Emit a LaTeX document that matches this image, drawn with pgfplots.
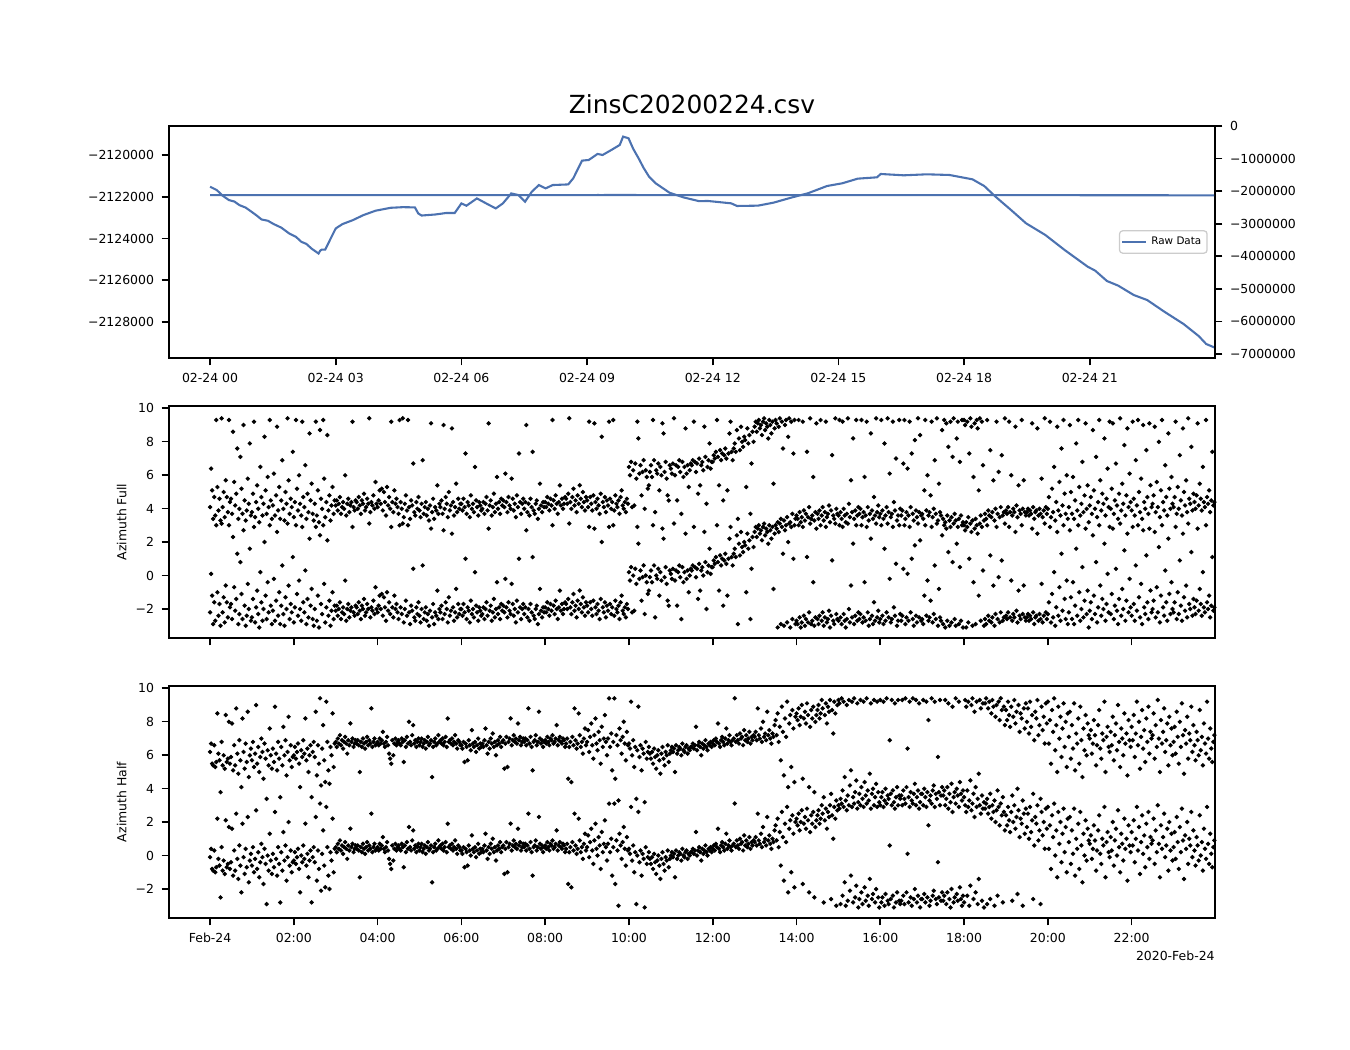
\documentclass[border=0pt]{standalone}
\usepackage{fontspec}
\setmainfont{DejaVu Sans}
\usepackage{pgfplots}
\usepackage{pgfplotstable}
\pgfplotsset{compat=1.18}
\definecolor{lineblue}{RGB}{76,114,176}

% raw data: h = hours since 02-24 00:00, dv = value + 2120000
\pgfplotstableread{
h dv
0.00 -1520
0.16 -1680
0.30 -1950
0.45 -2160
0.58 -2230
0.70 -2400
0.85 -2520
0.99 -2720
1.10 -2880
1.23 -3090
1.38 -3150
1.52 -3310
1.70 -3480
1.89 -3760
2.05 -3920
2.18 -4160
2.30 -4260
2.42 -4480
2.59 -4720
2.63 -4580
2.67 -4530
2.75 -4530
2.88 -4000
3.00 -3520
3.16 -3310
3.41 -3120
3.66 -2880
3.95 -2670
4.31 -2530
4.60 -2500
4.89 -2510
4.97 -2800
5.05 -2900
5.38 -2850
5.63 -2780
5.84 -2780
6.00 -2320
6.12 -2430
6.37 -2080
6.62 -2350
6.82 -2560
6.99 -2320
7.19 -1840
7.36 -1920
7.52 -2240
7.68 -1760
7.85 -1440
8.01 -1600
8.18 -1440
8.55 -1410
8.67 -1120
8.88 -270
9.04 -240
9.25 50
9.37 0
9.58 240
9.78 480
9.86 880
9.99 800
10.10 300
10.23 -160
10.35 -620
10.48 -1040
10.64 -1360
10.97 -1810
11.30 -2030
11.67 -2210
11.89 -2204
12.44 -2316
12.58 -2443
13.08 -2427
13.45 -2284
13.90 -2028
14.27 -1836
14.73 -1485
15.09 -1357
15.46 -1134
15.92 -1070
16.01 -910
16.56 -974
17.11 -926
17.65 -958
18.20 -1166
18.48 -1485
18.75 -1996
19.12 -2635
19.48 -3274
19.94 -3833
20.40 -4551
20.95 -5350
21.13 -5541
21.41 -6036
21.68 -6260
22.05 -6707
22.37 -6947
22.78 -7506
23.24 -8097
23.60 -8672
23.78 -9055
23.97 -9215
}\rawdata

% Azimuth Full, one sample every 1.5 min, angle in [-pi,pi]
\pgfplotstableread[row sep=\\]{
t\\
-2.2\\ 0.1\\ -1.2\\ -2.9\\ -1.6\\ -2.7\\ 3.0\\ -1.0\\ -2.4\\ -1.7\\ -3.0\\ 3.1\\ -2.2\\ -1.3\\ -2.8\\ -0.6\\ -1.6\\ -2.5\\ 3.0\\ -1.9\\
-1.7\\ -2.6\\ 2.3\\ -0.7\\ -2.1\\ -1.4\\ 1.3\\ -2.9\\ -2.3\\ 0.8\\ -1.1\\ -2.6\\ 2.7\\ -1.8\\ -3.0\\ -2.4\\ -0.5\\ -2.0\\ 1.6\\ -2.7\\
-2.5\\ -1.4\\ 2.9\\ -2.8\\ -1.9\\ -0.9\\ -2.3\\ -3.1\\ 0.2\\ -1.6\\ -2.7\\ -2.0\\ 2.0\\ -1.2\\ -2.6\\ -0.4\\ -2.2\\ 3.0\\ -1.8\\ -2.9\\
-2.1\\ -0.2\\ -2.7\\ -1.5\\ 2.6\\ -2.4\\ -1.0\\ -2.9\\ -1.8\\ 0.6\\ -2.3\\ -3.0\\ -1.3\\ -2.0\\ 3.1\\ -0.6\\ -2.6\\ -1.7\\ -2.2\\ 1.1\\
-2.8\\ -1.9\\ 3.0\\ -1.1\\ -2.4\\ -0.3\\ -2.0\\ -2.7\\ 2.9\\ -1.6\\ -2.2\\ 0.3\\ -2.9\\ -1.4\\ -2.5\\ 2.2\\ -1.8\\ -0.8\\ -2.6\\ -3.0\\
-2.0\\ 2.9\\ -2.7\\ -1.2\\ -3.1\\ 2.4\\ -1.7\\ -2.3\\ 3.0\\ -0.5\\ -2.8\\ -1.9\\ 2.1\\ -2.4\\ -1.5\\ -3.0\\ -2.1\\ -1.0\\ -2.6\\ -1.8\\
-2.1\\ -1.8\\ -2.4\\ -2.0\\ -1.6\\ -2.6\\ -2.2\\ -1.9\\ -2.3\\ -0.3\\ -2.7\\ -2.0\\ -1.7\\ -2.5\\ -2.1\\ -1.9\\ 2.9\\ -2.2\\ -2.4\\ -1.8\\
-1.9\\ -2.3\\ -1.6\\ -2.1\\ -2.6\\ -1.8\\ -2.0\\ -1.4\\ -2.4\\ -2.2\\ -1.7\\ -2.0\\ 3.1\\ -2.5\\ -1.9\\ -2.1\\ -1.5\\ -2.3\\ -0.7\\ -2.0\\
-2.2\\ -1.8\\ -1.2\\ -2.0\\ -1.1\\ -2.4\\ -1.3\\ -1.9\\ -2.7\\ -1.0\\ -2.1\\ -1.6\\ -2.3\\ 2.9\\ -1.9\\ -2.5\\ -1.2\\ -2.0\\ -1.7\\ -2.2\\
-2.6\\ 3.0\\ -1.9\\ -2.3\\ 3.1\\ -2.8\\ -2.0\\ -1.5\\ -2.4\\ 3.0\\ -2.2\\ -2.9\\ -1.8\\ -2.1\\ 0.4\\ -2.5\\ -2.7\\ -1.9\\ -2.3\\ -1.6\\
-2.4\\ -2.8\\ -2.0\\ 0.6\\ -2.6\\ -2.2\\ -1.9\\ -2.7\\ -2.3\\ -3.0\\ -2.1\\ 2.8\\ -2.5\\ -1.7\\ -2.9\\ -2.2\\ -2.4\\ -0.9\\ -2.6\\ -2.0\\
-2.2\\ -1.8\\ -2.6\\ 2.7\\ -2.3\\ -1.6\\ -2.0\\ -2.8\\ -1.3\\ -2.4\\ -2.1\\ 2.5\\ -1.9\\ -2.7\\ -2.2\\ -0.8\\ -2.5\\ -1.7\\ -2.3\\ -2.0\\
-2.0\\ -2.4\\ -1.7\\ -2.2\\ 1.0\\ -2.6\\ -1.9\\ -2.1\\ -2.8\\ -1.5\\ -2.3\\ -2.0\\ -2.5\\ 0.2\\ -1.8\\ -2.2\\ -2.7\\ -1.9\\ -2.1\\ -2.4\\
-2.3\\ -1.9\\ -2.6\\ -2.0\\ -1.6\\ -2.4\\ 2.8\\ -2.1\\ -1.8\\ -2.7\\ -2.2\\ -1.4\\ -2.5\\ -2.0\\ -0.4\\ -2.3\\ -1.9\\ -2.6\\ -1.7\\ -2.1\\
-1.8\\ -2.2\\ -0.2\\ -1.9\\ -2.5\\ -1.6\\ -2.1\\ -2.3\\ -0.5\\ -1.7\\ -2.4\\ -2.0\\ -2.8\\ -1.5\\ -2.2\\ 1.0\\ -1.9\\ -2.6\\ -2.0\\ -1.7\\
-2.3\\ -1.9\\ 2.7\\ -2.5\\ -2.0\\ -2.7\\ -1.7\\ -2.2\\ 1.1\\ -2.4\\ -2.6\\ -2.0\\ -1.8\\ -2.9\\ -2.3\\ -0.8\\ -2.1\\ -2.5\\ -1.9\\ -2.2\\
-1.9\\ -2.2\\ -1.6\\ -2.0\\ -2.4\\ -1.7\\ -2.1\\ 3.0\\ -1.8\\ -2.3\\ -1.5\\ -2.0\\ -2.6\\ -1.9\\ -0.9\\ -2.1\\ -1.7\\ -2.3\\ -2.0\\ -1.6\\
-1.7\\ -2.0\\ -1.4\\ 3.1\\ -1.9\\ -2.3\\ -1.6\\ -1.1\\ -2.1\\ -1.8\\ -2.5\\ -1.5\\ -2.0\\ -0.9\\ -1.7\\ -2.2\\ -1.3\\ -1.9\\ -2.4\\ -1.6\\
-1.8\\ -2.2\\ 2.9\\ -1.6\\ -2.0\\ -2.4\\ -1.5\\ 2.8\\ -1.9\\ -2.3\\ -1.7\\ -2.1\\ -2.6\\ -1.4\\ 2.0\\ -1.9\\ -2.2\\ -1.6\\ -2.5\\ -1.8\\
-2.1\\ 2.9\\ -1.7\\ -2.3\\ -1.9\\ 3.0\\ -2.4\\ -1.5\\ -2.0\\ -2.2\\ -1.8\\ -2.6\\ -1.6\\ -1.2\\ -2.1\\ -2.3\\ -1.9\\ -2.5\\ -1.7\\ -2.0\\
0.2\\ -0.3\\ 0.5\\ -2.2\\ 0.0\\ -2.1\\ 0.4\\ -0.5\\ 2.9\\ 1.9\\ -0.2\\ 0.3\\ -1.5\\ -0.1\\ 0.6\\ -2.3\\ 0.0\\ -0.4\\ -1.1\\ -0.9\\
-0.1\\ 0.3\\ -0.4\\ 3.0\\ 0.6\\ -2.5\\ 0.0\\ -0.2\\ 0.4\\ -1.2\\ 0.2\\ -0.3\\ 2.8\\ 2.2\\ -0.1\\ 0.5\\ -0.5\\ -1.5\\ -1.8\\ 0.3\\
0.1\\ -0.2\\ 0.4\\ 3.1\\ -0.3\\ 0.3\\ -1.8\\ 0.2\\ 0.6\\ -0.1\\ -2.6\\ 0.5\\ -0.4\\ 0.2\\ 2.5\\ -0.2\\ 0.3\\ -1.0\\ 0.0\\ 0.4\\
0.3\\ 0.6\\ 2.9\\ 0.5\\ -0.1\\ 0.4\\ -1.4\\ 0.7\\ -0.9\\ 0.3\\ 0.5\\ 0.0\\ 2.6\\ 0.8\\ -2.0\\ 0.2\\ 0.6\\ 1.6\\ 0.1\\ 0.5\\
0.5\\ 0.9\\ 0.7\\ 1.1\\ 3.0\\ 0.8\\ -0.9\\ 1.2\\ 0.6\\ 1.0\\ -1.8\\ 0.9\\ 1.3\\ 0.7\\ -1.2\\ 1.0\\ 2.2\\ 2.9\\ 1.1\\ 0.6\\
1.3\\ 1.6\\ 1.1\\ 2.4\\ -2.9\\ 1.9\\ 1.2\\ 2.6\\ 1.7\\ 1.4\\ 2.0\\ 1.8\\ -1.0\\ 2.5\\ 1.6\\ 2.1\\ -2.6\\ 0.4\\ 2.3\\ 1.7\\
2.6\\ 2.9\\ 2.3\\ 2.8\\ 3.0\\ 2.5\\ 2.7\\ 2.1\\ 2.9\\ 3.1\\ 2.4\\ 2.8\\ 2.6\\ 1.9\\ 3.0\\ 2.7\\ 2.2\\ 2.9\\ -0.8\\ 2.5\\
3.0\\ 2.8\\ -3.1\\ 2.6\\ 3.1\\ -2.9\\ 2.9\\ 1.3\\ -3.0\\ 2.7\\ 3.0\\ -2.8\\ 2.0\\ 3.1\\ -3.1\\ 2.9\\ -2.6\\ 1.0\\ 3.0\\ -2.9\\
-2.7\\ -2.9\\ 3.0\\ -2.5\\ -3.1\\ -2.8\\ 2.9\\ -2.4\\ -3.0\\ -2.6\\ 1.1\\ -2.8\\ -2.2\\ 3.1\\ -2.9\\ -2.7\\ -0.4\\ -3.0\\ -2.5\\ 2.8\\
-2.6\\ -2.9\\ -2.4\\ 3.0\\ -2.7\\ -2.2\\ -3.0\\ -2.5\\ 2.9\\ -2.8\\ -2.6\\ -2.1\\ -3.1\\ -2.4\\ 0.9\\ -2.7\\ -2.9\\ 3.1\\ -2.3\\ -2.6\\
-2.7\\ 3.0\\ -2.5\\ -2.9\\ 2.9\\ -2.3\\ -2.7\\ -3.1\\ -2.6\\ 3.1\\ -2.0\\ -2.8\\ -0.6\\ -2.5\\ 1.9\\ -2.9\\ -2.4\\ 3.0\\ -2.7\\ -2.2\\
-2.6\\ -2.3\\ 3.0\\ -2.8\\ -2.5\\ -0.4\\ -2.7\\ 2.9\\ -2.2\\ -3.0\\ -2.6\\ 2.2\\ -2.4\\ -2.9\\ -1.6\\ -2.7\\ 3.1\\ -2.5\\ -2.1\\ -2.8\\
-2.6\\ 3.0\\ -2.4\\ -2.9\\ 1.6\\ -2.7\\ -2.2\\ 3.1\\ -2.5\\ -0.2\\ -2.8\\ -2.6\\ 2.9\\ -1.9\\ -2.4\\ 0.7\\ -3.0\\ -2.7\\ 3.0\\ -2.3\\
-2.7\\ -2.4\\ 0.4\\ 3.0\\ -2.9\\ -2.5\\ 0.1\\ -2.7\\ 2.9\\ -2.2\\ 1.0\\ -2.6\\ -3.0\\ 1.8\\ -2.4\\ -2.8\\ 3.1\\ -2.5\\ 2.1\\ -2.7\\
-2.6\\ -2.9\\ -1.2\\ 3.0\\ -2.4\\ -0.3\\ -2.7\\ -2.5\\ -1.5\\ 2.9\\ -2.8\\ -2.3\\ 0.6\\ -2.6\\ 3.1\\ -3.0\\ -0.8\\ -2.5\\ -2.7\\ 2.4\\
-2.9\\ 3.0\\ -3.1\\ 2.8\\ -2.7\\ 1.4\\ -3.0\\ 2.9\\ -2.8\\ 0.8\\ 3.1\\ -2.6\\ -3.0\\ 1.9\\ 2.9\\ -2.9\\ 0.5\\ -2.7\\ 3.0\\ -3.1\\
3.0\\ 2.7\\ -3.1\\ 2.9\\ -2.8\\ 1.0\\ 3.1\\ 2.6\\ -3.0\\ -0.4\\ 2.8\\ -2.9\\ 3.0\\ 2.5\\ -1.2\\ 3.1\\ -2.7\\ 2.9\\ 0.3\\ -3.0\\
-2.6\\ -2.9\\ 3.0\\ -2.4\\ -2.7\\ 1.2\\ -2.8\\ -2.5\\ -0.6\\ -3.0\\ -2.3\\ 2.9\\ -2.6\\ -0.1\\ -2.8\\ -2.2\\ 0.9\\ -2.7\\ -2.5\\ 3.1\\
-2.4\\ -2.6\\ -2.2\\ 2.9\\ -2.5\\ -0.3\\ -2.7\\ -2.3\\ -2.5\\ 2.6\\ -2.1\\ -2.8\\ -0.9\\ -2.4\\ -2.6\\ 3.0\\ -2.3\\ -0.6\\ -2.5\\ -2.7\\
-2.5\\ -2.3\\ -2.7\\ -2.4\\ -2.6\\ 2.8\\ -2.2\\ -2.9\\ -2.5\\ -2.4\\ 2.5\\ -2.7\\ -2.3\\ -2.6\\ -0.5\\ -2.8\\ -2.4\\ 3.1\\ -2.2\\ -2.6\\
-2.3\\ -1.6\\ 2.9\\ -2.8\\ -1.1\\ -2.5\\ 0.2\\ -3.0\\ -1.9\\ 2.6\\ -2.4\\ -0.7\\ -2.7\\ 1.3\\ -2.1\\ 3.0\\ -1.4\\ -2.6\\ -0.3\\ -2.9\\
-2.2\\ 2.7\\ -1.3\\ -2.6\\ -0.4\\ -2.9\\ -1.8\\ 1.6\\ -2.4\\ 3.0\\ -1.0\\ -2.7\\ -2.0\\ 0.5\\ -2.5\\ -1.5\\ 2.8\\ -2.3\\ -0.9\\ -3.1\\
-2.1\\ -1.6\\ -2.6\\ 2.4\\ -1.2\\ -2.3\\ 0.8\\ -2.8\\ -1.9\\ 3.0\\ -0.6\\ -2.4\\ -1.4\\ -2.0\\ 1.9\\ -2.7\\ -1.7\\ 0.1\\ -2.2\\ 2.9\\
-2.3\\ -1.1\\ 2.8\\ -2.6\\ -1.8\\ 0.4\\ -2.1\\ -2.9\\ -1.4\\ 3.1\\ -2.4\\ -0.8\\ -2.0\\ 1.5\\ -2.7\\ -1.5\\ 2.5\\ -2.2\\ -0.2\\ -1.9\\
-2.4\\ 2.9\\ -1.7\\ -2.7\\ 0.6\\ -2.1\\ 3.0\\ -1.3\\ -2.5\\ -0.5\\ -2.9\\ 2.7\\ -1.9\\ -2.3\\ 1.2\\ -1.6\\ -2.6\\ 2.8\\ -0.9\\ -2.2\\
-2.0\\ -1.5\\ 2.6\\ -2.5\\ -0.7\\ -2.2\\ 1.7\\ -2.8\\ -1.2\\ 3.0\\ -1.9\\ -2.4\\ 0.3\\ -1.6\\ -2.7\\ 2.2\\ -1.1\\ -2.3\\ -0.4\\ -2.0\\
-2.2\\ -1.6\\ 2.9\\ -2.6\\ -1.0\\ -2.3\\ 0.9\\ -1.8\\ -2.7\\ 2.5\\ -1.3\\ -2.1\\ -0.6\\ -2.5\\ 3.1\\ -1.7\\ -2.0\\ 1.4\\ -2.4\\ -1.4\\
-1.9\\ -2.3\\ -1.5\\ 2.8\\ -2.1\\ -0.8\\ -1.7\\ -2.4\\ 0.2\\ -1.9\\ -2.2\\ 3.0\\ -1.6\\ -2.0\\ -1.2\\ -2.5\\ -1.8\\ 1.1\\ -2.1\\ -1.9\\
}\azfull

% Azimuth Half, one sample every 1.5 min, angle in [-pi,pi]
\pgfplotstableread[row sep=\\]{
t\\
-0.1\\ 0.4\\ -0.8\\ -0.9\\ 0.3\\ -1.0\\ -0.7\\ 2.2\\ -0.2\\ -0.6\\ -2.5\\ 0.5\\ -0.9\\ -0.3\\ -1.1\\ 2.1\\ -0.7\\ -0.5\\ 1.7\\ -0.8\\
-0.4\\ 1.6\\ -1.2\\ 0.3\\ -0.9\\ 2.5\\ -0.2\\ -1.4\\ 0.6\\ -0.6\\ -2.2\\ 1.9\\ -0.1\\ -1.1\\ 0.4\\ -0.7\\ 2.3\\ -1.6\\ -0.3\\ 0.1\\
-0.6\\ 0.5\\ -1.0\\ -0.2\\ 2.7\\ -0.8\\ 0.2\\ -1.3\\ -0.4\\ 0.7\\ -0.1\\ -1.7\\ 0.4\\ -0.5\\ -2.9\\ 0.0\\ -0.9\\ 1.3\\ -0.3\\ -1.1\\
0.1\\ -0.7\\ 2.6\\ -0.2\\ -1.2\\ 0.5\\ -0.5\\ -2.8\\ 0.2\\ -0.9\\ 1.4\\ -0.3\\ 0.6\\ -1.5\\ -0.1\\ 2.0\\ -0.6\\ 0.3\\ -1.0\\ -0.4\\
-0.3\\ 0.2\\ -0.5\\ -0.1\\ 0.4\\ -0.8\\ -2.2\\ 0.0\\ -0.4\\ 0.6\\ -0.2\\ 1.9\\ -0.6\\ 0.1\\ -1.3\\ -0.3\\ 0.3\\ -2.8\\ -0.1\\ 0.5\\
-0.4\\ 2.3\\ -1.5\\ 0.3\\ -0.8\\ 3.1\\ -2.1\\ 0.1\\ 1.5\\ -0.6\\ -1.9\\ 2.9\\ 0.5\\ -1.2\\ -2.0\\ 0.2\\ -0.3\\ 2.2\\ -1.0\\ 0.4\\
0.5\\ 0.2\\ 0.7\\ 0.4\\ 0.9\\ 0.3\\ 0.6\\ 0.1\\ 0.5\\ 0.8\\ 0.4\\ -0.2\\ 0.6\\ 0.3\\ 1.6\\ 0.5\\ 0.7\\ 0.2\\ 0.4\\ 0.6\\
0.4\\ 0.6\\ 0.3\\ -1.3\\ 0.5\\ 0.2\\ 0.7\\ 0.4\\ 0.1\\ 0.5\\ 0.8\\ 0.3\\ 0.6\\ 0.4\\ 2.5\\ 0.2\\ 0.5\\ 0.7\\ 0.3\\ 0.4\\
0.5\\ 0.3\\ 0.7\\ 0.4\\ 0.6\\ 1.1\\ 0.4\\ 0.2\\ 0.5\\ 0.8\\ 0.3\\ -0.2\\ -0.5\\ -0.8\\ 0.6\\ -0.3\\ 0.4\\ 0.7\\ 0.3\\ 0.5\\
0.6\\ 0.4\\ 0.3\\ 0.7\\ 0.5\\ -0.7\\ 0.6\\ 0.2\\ 0.8\\ 0.4\\ 1.7\\ 0.5\\ 0.3\\ 0.9\\ 1.5\\ 0.4\\ 0.6\\ 0.2\\ 0.5\\ 0.7\\
0.3\\ 0.5\\ 0.7\\ 0.2\\ 0.4\\ 0.6\\ 0.1\\ 0.5\\ 0.8\\ 0.3\\ 0.4\\ 0.6\\ -1.6\\ 0.2\\ 0.5\\ 0.7\\ 0.3\\ 0.4\\ 0.9\\ 0.5\\
0.6\\ 0.4\\ 0.7\\ 0.3\\ 0.5\\ 0.8\\ 0.2\\ 1.9\\ 0.5\\ 0.6\\ 0.4\\ 0.7\\ 0.3\\ 0.5\\ 0.9\\ 0.4\\ 0.1\\ 0.6\\ 0.5\\ 0.3\\
0.3\\ 0.1\\ 0.5\\ -0.7\\ 0.4\\ 0.2\\ -0.6\\ 0.6\\ 0.3\\ 0.0\\ 1.2\\ 0.4\\ 0.2\\ 0.5\\ -0.1\\ 0.3\\ 0.7\\ 0.1\\ 0.4\\ 0.2\\
0.4\\ 0.2\\ 0.6\\ 1.3\\ 0.3\\ -0.2\\ 0.5\\ 0.1\\ 0.7\\ 0.4\\ 1.0\\ 0.2\\ 0.5\\ -0.3\\ 0.3\\ 0.6\\ 0.4\\ 0.8\\ 0.2\\ 0.5\\
0.6\\ -1.1\\ 0.4\\ 0.8\\ -1.0\\ 0.5\\ 0.7\\ 1.9\\ 0.3\\ 0.6\\ 0.9\\ 0.5\\ 0.7\\ 0.4\\ 1.6\\ 0.6\\ 0.8\\ 0.3\\ 0.5\\ 0.7\\
0.5\\ 0.7\\ 0.3\\ 0.6\\ 2.5\\ 0.4\\ 0.8\\ 0.2\\ -1.2\\ 0.5\\ 0.6\\ 0.9\\ 0.3\\ 0.5\\ 2.3\\ 0.7\\ 0.4\\ 0.6\\ 0.2\\ 0.5\\
0.6\\ 0.4\\ 0.8\\ 0.5\\ 0.3\\ 0.7\\ 0.6\\ 0.9\\ 0.4\\ 0.5\\ 0.7\\ 1.5\\ 0.3\\ 0.6\\ 0.8\\ 0.5\\ 0.4\\ 0.7\\ 0.6\\ 0.2\\
0.4\\ 0.7\\ -1.7\\ 0.2\\ 0.5\\ -1.9\\ 0.8\\ 0.3\\ 2.5\\ 0.6\\ 0.1\\ 0.4\\ 2.2\\ 0.9\\ 0.2\\ 0.5\\ -0.2\\ 0.7\\ 1.3\\ 0.3\\
0.5\\ 1.2\\ -0.1\\ 0.8\\ 1.6\\ 0.3\\ -0.5\\ 0.9\\ 1.9\\ 0.4\\ 0.0\\ 1.1\\ 0.6\\ -0.8\\ 1.4\\ 0.2\\ 0.7\\ 2.1\\ 0.5\\ -0.3\\
0.7\\ 3.1\\ 0.2\\ 1.0\\ -1.2\\ 0.5\\ 3.1\\ -1.7\\ 0.9\\ 0.3\\ -3.0\\ 1.3\\ 0.6\\ -0.2\\ 0.8\\ 1.7\\ 0.4\\ -0.6\\ 1.1\\ 0.3\\
0.4\\ 0.1\\ 2.9\\ -0.3\\ 0.6\\ -1.0\\ 0.2\\ -2.9\\ 0.0\\ 2.6\\ -0.4\\ 0.3\\ -1.2\\ 0.1\\ -0.2\\ -3.1\\ 0.5\\ -0.5\\ -0.1\\ 0.2\\
-0.2\\ -0.5\\ -0.1\\ -0.8\\ 0.1\\ -0.4\\ -1.1\\ -0.3\\ 0.0\\ -0.6\\ -1.4\\ -0.2\\ 0.2\\ -0.5\\ -0.9\\ -0.1\\ -0.3\\ 0.3\\ -0.7\\ -0.2\\
0.0\\ 0.2\\ -0.1\\ 0.1\\ -1.3\\ 0.3\\ -0.2\\ 0.0\\ 0.2\\ 0.1\\ -0.3\\ 0.4\\ 0.0\\ -0.1\\ 0.2\\ 0.3\\ -0.2\\ 0.1\\ 0.0\\ 0.2\\
0.2\\ 0.4\\ 0.1\\ 0.3\\ 1.4\\ 0.0\\ 0.3\\ 0.5\\ 0.2\\ -0.3\\ 0.4\\ 0.1\\ 0.3\\ 0.6\\ 0.2\\ 0.0\\ 0.4\\ 0.3\\ 0.5\\ 0.2\\
0.4\\ 0.6\\ 0.3\\ 0.7\\ 0.5\\ 1.6\\ 0.4\\ 0.2\\ 0.6\\ 0.8\\ 0.5\\ 0.3\\ 0.7\\ 1.3\\ 0.4\\ 0.6\\ 0.9\\ 0.5\\ 0.3\\ 0.6\\
0.7\\ 3.1\\ 0.5\\ 0.9\\ 0.6\\ 0.4\\ 1.0\\ 0.7\\ 0.8\\ 0.3\\ 1.2\\ 0.6\\ 0.9\\ 0.5\\ 0.7\\ 1.1\\ 0.4\\ 0.8\\ 0.6\\ 0.9\\
0.8\\ 1.1\\ 0.6\\ 2.5\\ 0.9\\ 0.7\\ 1.3\\ 0.5\\ 1.7\\ 0.8\\ 1.0\\ 0.6\\ 2.3\\ 0.9\\ 1.2\\ 0.7\\ 0.4\\ 1.0\\ 0.8\\ 1.5\\
1.8\\ 0.9\\ 2.2\\ 0.5\\ 1.4\\ -0.6\\ 2.6\\ 1.1\\ -1.5\\ 1.9\\ 0.8\\ 2.9\\ -2.2\\ 1.6\\ 2.1\\ -1.0\\ 2.4\\ 1.3\\ -1.9\\ 2.0\\
2.2\\ 1.8\\ 2.5\\ 1.5\\ 2.0\\ 2.7\\ -1.7\\ 1.9\\ 2.3\\ 1.6\\ 2.8\\ 2.1\\ -2.2\\ 1.4\\ 2.4\\ 1.9\\ 2.6\\ -2.5\\ 1.7\\ 2.1\\
2.4\\ 2.7\\ 1.9\\ 2.2\\ 3.0\\ 2.5\\ -2.8\\ 2.1\\ 2.8\\ 1.6\\ 2.6\\ 2.3\\ 3.0\\ -2.6\\ 2.4\\ 1.0\\ 2.9\\ 2.2\\ -3.0\\ 2.7\\
3.0\\ 2.8\\ -2.9\\ 3.1\\ -2.4\\ 2.9\\ -1.6\\ -3.0\\ 2.7\\ -2.7\\ 3.0\\ -2.1\\ -1.2\\ 2.9\\ -2.8\\ 3.1\\ -2.5\\ -1.8\\ 2.8\\ -3.1\\
-2.6\\ 3.0\\ -2.2\\ -2.9\\ 2.9\\ -1.9\\ -2.7\\ 3.1\\ -2.4\\ -3.0\\ -1.4\\ 2.8\\ -2.6\\ -2.3\\ 3.0\\ -2.8\\ -2.0\\ 2.9\\ -2.5\\ -3.1\\
3.0\\ -2.8\\ -2.5\\ 2.9\\ -3.0\\ -2.3\\ 3.1\\ -2.7\\ -2.9\\ 0.6\\ -2.6\\ 3.0\\ -2.4\\ -3.1\\ 2.8\\ -2.8\\ -2.2\\ 3.0\\ -2.7\\ -2.9\\
-2.7\\ 3.0\\ -2.4\\ -2.9\\ 3.1\\ -2.2\\ 0.1\\ -2.8\\ 2.9\\ -2.5\\ -3.0\\ 3.1\\ -2.6\\ -2.0\\ 3.0\\ -2.8\\ -2.4\\ 2.8\\ -3.1\\ -2.6\\
-2.6\\ 3.0\\ -2.3\\ -2.8\\ 2.9\\ -2.5\\ 1.8\\ -3.0\\ -2.7\\ 3.1\\ -2.4\\ -2.1\\ 2.9\\ -2.6\\ -2.9\\ -0.4\\ -2.5\\ 3.0\\ -2.7\\ -2.2\\
-2.7\\ -2.4\\ 3.0\\ -2.9\\ -2.2\\ 2.8\\ -2.6\\ -3.1\\ -2.0\\ 2.6\\ -2.8\\ -2.5\\ 3.1\\ -2.3\\ -2.7\\ 2.9\\ -1.9\\ -2.6\\ -3.0\\ -2.4\\
-2.8\\ 3.0\\ 2.6\\ -2.4\\ 2.9\\ -3.0\\ -1.8\\ 2.7\\ 3.1\\ -2.6\\ 2.3\\ -2.2\\ 2.9\\ -2.9\\ -1.4\\ 3.0\\ 2.5\\ -2.7\\ 2.8\\ -3.1\\
2.8\\ 3.1\\ -2.9\\ 2.5\\ 2.9\\ -2.6\\ 2.2\\ 3.0\\ 2.6\\ -3.0\\ 2.0\\ 2.7\\ -2.4\\ 2.9\\ 1.8\\ 3.1\\ 2.4\\ -2.8\\ 2.6\\ 1.5\\
2.4\\ 1.8\\ 2.9\\ 2.1\\ 1.4\\ 2.6\\ -2.7\\ 2.0\\ 3.0\\ 1.6\\ 2.3\\ -2.3\\ 2.7\\ 1.1\\ 2.2\\ 1.9\\ -3.0\\ 2.5\\ 1.3\\ 2.8\\
1.7\\ 2.5\\ 1.0\\ 2.9\\ 1.4\\ 2.1\\ -2.6\\ 0.6\\ 2.3\\ 1.9\\ 3.0\\ 0.9\\ 1.5\\ -2.9\\ 2.6\\ 1.2\\ 2.0\\ 0.4\\ 2.8\\ 1.6\\
2.9\\ 0.4\\ 1.8\\ -0.8\\ 2.4\\ 1.1\\ 3.1\\ 0.0\\ 1.5\\ -1.3\\ 2.6\\ 0.7\\ 2.0\\ -0.4\\ 1.3\\ 2.8\\ 0.2\\ 1.7\\ -1.0\\ 2.2\\
0.8\\ 2.3\\ -0.5\\ 1.5\\ 0.1\\ 2.8\\ -1.2\\ 1.0\\ 0.4\\ 1.9\\ -0.8\\ 2.6\\ 0.6\\ -1.6\\ 1.3\\ 0.0\\ 2.1\\ -0.3\\ 1.6\\ 0.9\\
0.7\\ 1.2\\ -0.2\\ 0.4\\ 1.8\\ 0.9\\ -0.9\\ 0.3\\ 1.5\\ 2.4\\ 0.1\\ -0.5\\ 1.0\\ 0.6\\ 2.9\\ -1.3\\ 0.8\\ 1.4\\ 0.2\\ -0.1\\
1.1\\ 0.3\\ 2.0\\ -0.6\\ 0.9\\ 1.6\\ 0.0\\ 2.7\\ 0.5\\ -1.0\\ 1.3\\ 0.7\\ -0.3\\ 2.2\\ 0.4\\ 1.0\\ -1.5\\ 1.8\\ 0.6\\ 0.2\\
1.4\\ 0.6\\ 2.1\\ -0.4\\ 1.0\\ 2.9\\ 0.3\\ 1.7\\ -1.1\\ 0.8\\ 2.4\\ 0.1\\ 1.2\\ -0.7\\ 1.9\\ 0.5\\ 2.6\\ -0.2\\ 1.1\\ 0.7\\
0.9\\ 2.2\\ -0.5\\ 1.5\\ 0.2\\ 3.0\\ 0.7\\ -1.3\\ 1.8\\ 0.4\\ 1.1\\ 2.5\\ -0.1\\ 0.6\\ 1.6\\ -0.9\\ 2.0\\ 0.3\\ 1.3\\ -0.3\\
0.5\\ 1.4\\ -0.2\\ 2.3\\ 0.8\\ -0.8\\ 1.7\\ 0.2\\ 2.8\\ 0.9\\ -1.4\\ 1.2\\ 0.4\\ 2.0\\ -0.5\\ 1.0\\ 0.6\\ 2.6\\ -0.1\\ 1.5\\
0.3\\ -0.6\\ 1.1\\ 0.6\\ -0.3\\ 2.4\\ 0.0\\ 0.8\\ -0.9\\ 1.6\\ 0.4\\ -0.2\\ 2.9\\ 0.7\\ -0.5\\ 1.3\\ 0.1\\ -0.7\\ 0.5\\ 0.9\\
}\azhalf

\pgfplotsset{
  every axis/.append style={
    scale only axis, width=502.08bp, height=111.36bp, anchor=south west,
    xmin=-0.98, xmax=23.99,
    axis line style={line width=0.8bp, black},
    tick style={line width=0.8bp, black},
    major tick length=3.5bp,
    tick align=outside,
    scaled ticks=false,
    ticklabel style={font=\fontsize{6}{7}\selectfont, inner sep=0pt},
    xticklabel shift=3.5bp, yticklabel shift=3.5bp,
  },
  dots/.style={only marks, mark=*, mark size=0.85bp, black, mark options={draw=none, fill=black}},
}

\begin{document}
\begin{tikzpicture}
\useasboundingbox (0,0) rectangle (648bp,504bp);

% ---------- top panel ----------
\begin{axis}[name=top, at={(81.12bp,332.16bp)},
  ymin=-9724, ymax=1389,
  xtick pos=left, ytick pos=left,
  xtick={0,3,6,9,12,15,18,21},
  xticklabels={02-24 00,02-24 03,02-24 06,02-24 09,02-24 12,02-24 15,02-24 18,02-24 21},
  ytick={-8000,-6000,-4000,-2000,0},
  yticklabels={−2128000,−2126000,−2124000,−2122000,−2120000},
]
\addplot[lineblue, line width=1bp] table[x=h, y=dv]{\rawdata};
\end{axis}
\begin{axis}[at={(81.12bp,332.16bp)},
  ymin=-7.123, ymax=0,
  axis x line=none, axis y line*=right,
  ytick={-7,-6,-5,-4,-3,-2,-1,0},
  yticklabels={−7000000,−6000000,−5000000,−4000000,−3000000,−2000000,−1000000,0},
  legend style={at={(1,0.5)}, anchor=east, xshift=-3.5bp,
    font=\fontsize{5}{6}\selectfont, draw=black!20, line width=0.6bp,
    rounded corners=1.5bp, inner sep=0.8bp, fill=white},
  legend cell align=left,
  legend image code/.code={\draw[#1] (0bp,0bp) -- (11.5bp,0bp);},
]
\addplot[lineblue, line width=1bp] table[x=h, y expr=\thisrow{dv}/1000000-2.12]{\rawdata};
\addlegendentry{Raw Data}
\end{axis}
\node[anchor=base, font=\fontsize{12}{14}\selectfont] at ([yshift=5.8bp]top.north) {ZinsC20200224.csv};

% ---------- middle panel ----------
\begin{axis}[name=mid, at={(81.12bp,197.76bp)},
  ymin=-3.73, ymax=10.12,
  xtick pos=left, ytick pos=left,
  xtick={0,2,4,6,8,10,12,14,16,18,20,22},
  xticklabels={},
  ytick={-2,0,2,4,6,8,10},
  yticklabels={−2,0,2,4,6,8,10},
]
\addplot[dots] table[x index=0, y index=0, x expr=\coordindex*0.025]{\azfull};
\addplot[dots] table[x index=0, y index=0, x expr=\coordindex*0.025, y expr=\thisrowno{0}+6.2832]{\azfull};
\end{axis}
\node[rotate=90, font=\fontsize{6}{7}\selectfont] at ([xshift=-22.7bp]mid.west) {Azimuth Full};

% ---------- bottom panel ----------
\begin{axis}[name=bot, at={(81.12bp,63.36bp)},
  ymin=-3.73, ymax=10.12,
  xtick pos=left, ytick pos=left,
  xtick={0,2,4,6,8,10,12,14,16,18,20,22},
  xticklabels={Feb-24,02:00,04:00,06:00,08:00,10:00,12:00,14:00,16:00,18:00,20:00,22:00},
  ytick={-2,0,2,4,6,8,10},
  yticklabels={−2,0,2,4,6,8,10},
]
\addplot[dots] table[x index=0, y index=0, x expr=\coordindex*0.025]{\azhalf};
\addplot[dots] table[x index=0, y index=0, x expr=\coordindex*0.025, y expr=\thisrowno{0}+6.2832]{\azhalf};
\end{axis}
\node[rotate=90, font=\fontsize{6}{7}\selectfont] at ([xshift=-22.7bp]bot.west) {Azimuth Half};
\node[anchor=base east, font=\fontsize{6}{7}\selectfont, inner sep=0pt] at ([yshift=-20.5bp]bot.south east) {2020-Feb-24};
\end{tikzpicture}
\end{document}
